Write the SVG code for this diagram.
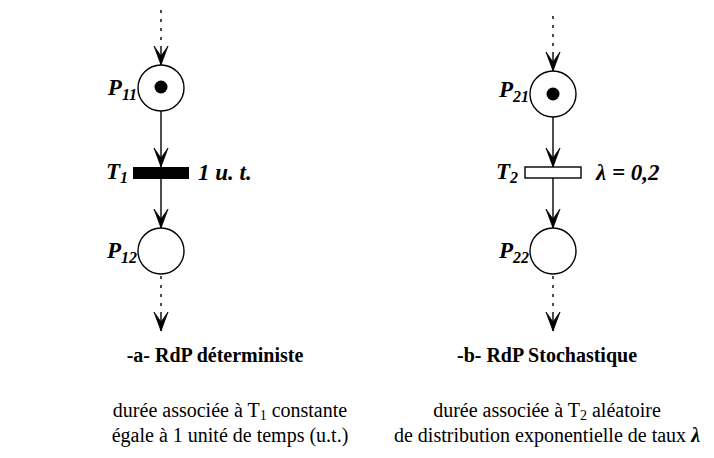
<svg xmlns="http://www.w3.org/2000/svg" width="714" height="458" viewBox="0 0 714 458">
<defs>
<marker id="ah" markerUnits="userSpaceOnUse" markerWidth="16" markerHeight="22" viewBox="-8 -20 16 22" refX="0" refY="0" orient="auto-start-reverse" overflow="visible">
<path d="M0,0 L-7,-19 L0,-9 L7,-19 Z" transform="rotate(-90)" fill="#000" stroke="#000" stroke-width="0.8" stroke-linejoin="miter"/>
</marker>
<style>
.pl{fill:#fff;stroke:#000;stroke-width:1.4}
.tok{fill:#000}
.arc{stroke:#000;stroke-width:1.4;fill:none}
.dot{stroke:#000;stroke-width:1.4;fill:none;stroke-dasharray:3 6}
text{font-family:"Liberation Serif","Times New Roman",Times,"DejaVu Serif",serif;fill:#000}
.lbl{font-weight:bold;font-style:italic;font-size:23px}
.sub{font-size:16px}
.ttl{font-weight:bold;font-size:20px}
.cap{font-size:20px}
.csub{font-size:14px}
</style>
</defs>
<g id="connectors">
<line class="dot" x1="161" y1="10" x2="161" y2="46"/>
<line class="arc" x1="161" y1="46" x2="161" y2="65" marker-end="url(#ah)"/>
<line class="arc" x1="161" y1="111" x2="161" y2="167" marker-end="url(#ah)"/>
<line class="arc" x1="161" y1="179" x2="161" y2="228" marker-end="url(#ah)"/>
<line class="dot" x1="161" y1="276" x2="161" y2="312"/>
<line class="arc" x1="161" y1="312" x2="161" y2="331" marker-end="url(#ah)"/>
<line class="dot" x1="553" y1="16" x2="553" y2="52"/>
<line class="arc" x1="553" y1="52" x2="553" y2="71" marker-end="url(#ah)"/>
<line class="arc" x1="553" y1="117" x2="553" y2="167" marker-end="url(#ah)"/>
<line class="arc" x1="553" y1="178" x2="553" y2="228" marker-end="url(#ah)"/>
<line class="dot" x1="553" y1="276" x2="553" y2="312"/>
<line class="arc" x1="553" y1="312" x2="553" y2="331" marker-end="url(#ah)"/>
</g>
<g id="P11">
<circle class="pl" cx="161" cy="88" r="23"/>
<circle class="tok" cx="161" cy="87" r="6.5"/>
<text class="lbl" x="137" y="95" text-anchor="end">P<tspan class="sub" baseline-shift="-5">11</tspan></text>
</g>
<g id="T1">
<rect x="133" y="167" width="56" height="12" fill="#000"/>
<text class="lbl" x="128" y="179" text-anchor="end">T<tspan class="sub" baseline-shift="-4">1</tspan></text>
<text class="lbl" x="198" y="180">1 u. t.</text>
</g>
<g id="P12">
<circle class="pl" cx="161" cy="251" r="23"/>
<text class="lbl" x="137" y="258" text-anchor="end">P<tspan class="sub" baseline-shift="-5">12</tspan></text>
</g>
<g id="P21">
<circle class="pl" cx="553" cy="94" r="23"/>
<circle class="tok" cx="553" cy="94" r="6.5"/>
<text class="lbl" x="529" y="97" text-anchor="end">P<tspan class="sub" baseline-shift="-5">21</tspan></text>
</g>
<g id="T2">
<rect x="525" y="167" width="56" height="11" fill="#fff" stroke="#000" stroke-width="1.4"/>
<text class="lbl" x="518" y="179" text-anchor="end">T<tspan class="sub" baseline-shift="-4">2</tspan></text>
<text class="lbl" x="596" y="180">λ = 0,2</text>
</g>
<g id="P22">
<circle class="pl" cx="553" cy="251" r="23"/>
<text class="lbl" x="529" y="258" text-anchor="end">P<tspan class="sub" baseline-shift="-5">22</tspan></text>
</g>
<g id="captions">
<text class="ttl" x="215" y="362" text-anchor="middle">-a- RdP déterministe</text>
<text class="ttl" x="547" y="362" text-anchor="middle">-b- RdP Stochastique</text>
<text class="cap" x="230" y="417" text-anchor="middle">durée associée à T<tspan class="csub" baseline-shift="-3">1</tspan> constante</text>
<text class="cap" x="230" y="442" text-anchor="middle">égale à 1 unité de temps (u.t.)</text>
<text class="cap" x="547" y="417" text-anchor="middle">durée associée à T<tspan class="csub" baseline-shift="-3">2</tspan> aléatoire</text>
<text class="cap" x="547" y="442" text-anchor="middle">de distribution exponentielle de taux <tspan font-weight="bold" font-style="italic">λ</tspan></text>
</g>
</svg>
